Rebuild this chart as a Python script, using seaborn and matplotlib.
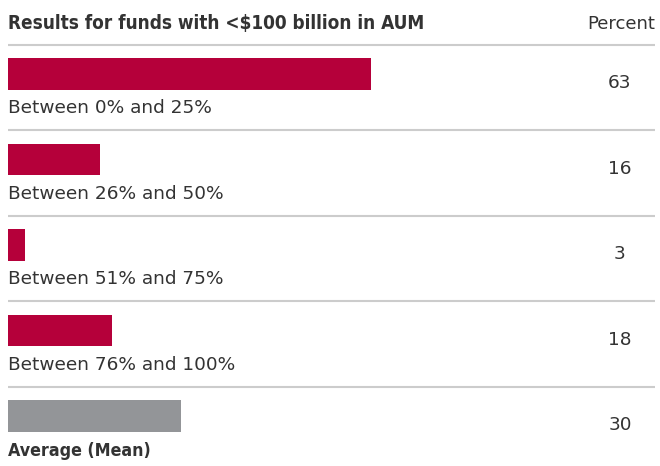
import matplotlib
matplotlib.use("Agg")
import matplotlib.pyplot as plt
import seaborn as sns
import pandas as pd

# Survey results: share of funds (percent) by range
categories = ["Between 0% and 25%", "Between 26% and 50%", "Between 51% and 75%",
              "Between 76% and 100%", "Average (Mean)"]
values = [63, 16, 3, 18, 30]
bar_colors = ["#b5003a", "#b5003a", "#b5003a", "#b5003a", "#939598"]
title = "Results for funds with <$100 billion in AUM"
unit_label = "Percent"

df = pd.DataFrame({"category": categories, "value": values})

sns.set_theme(style="white")
plt.rcParams["font.family"] = ["DejaVu Sans"]

W, H = 660, 466
fig = plt.figure(figsize=(W / 100, H / 100), dpi=100)
ax = fig.add_axes([8 / W, 0, (655 - 8) / W, 1])

sns.barplot(data=df, x="value", y="category", hue="category",
            palette=bar_colors, legend=False, width=0.374, ax=ax,
            orient="h", saturation=1, linewidth=0)

# rows are 85.5 px apart; first bar centered at 74 px from top
px_row, px_first = 85.5, 74
def row_y(px):
    return (px - px_first) / px_row

ax.set_xlim(0, (655 - 8) / 5.76)
ax.set_ylim(row_y(H), row_y(0))
ax.axis("off")

text_color = "#333333"
line_color = "#cccccc"
xmax = ax.get_xlim()[1]

# header
ax.text(0, row_y(24), title, fontsize=13.6, fontweight="bold",
        fontstretch="condensed", color=text_color, va="center", ha="left")
ax.text(xmax, row_y(24), unit_label, fontsize=13, color=text_color,
        va="center", ha="right")
ax.axhline(row_y(45), color=line_color, lw=1.5, xmin=0, xmax=1)

x_val = (620 - 8) / 5.76
for i, (cat, val) in enumerate(zip(categories, values)):
    last = i == len(categories) - 1
    if last:
        ax.text(0, i + 0.41, cat, fontsize=12.8, color=text_color,
                va="center", ha="left", fontweight="bold",
                fontstretch="condensed")
    else:
        ax.text(0, i + 0.40, cat, fontsize=13.3, color=text_color,
                va="center", ha="left")
    ax.text(x_val, i + 0.11, f"{val}", fontsize=13.3, color=text_color,
            va="center", ha="center")
    if not last:
        ax.axhline(i + 0.655, color=line_color, lw=1.5)

fig.savefig("out.png", dpi=100)
